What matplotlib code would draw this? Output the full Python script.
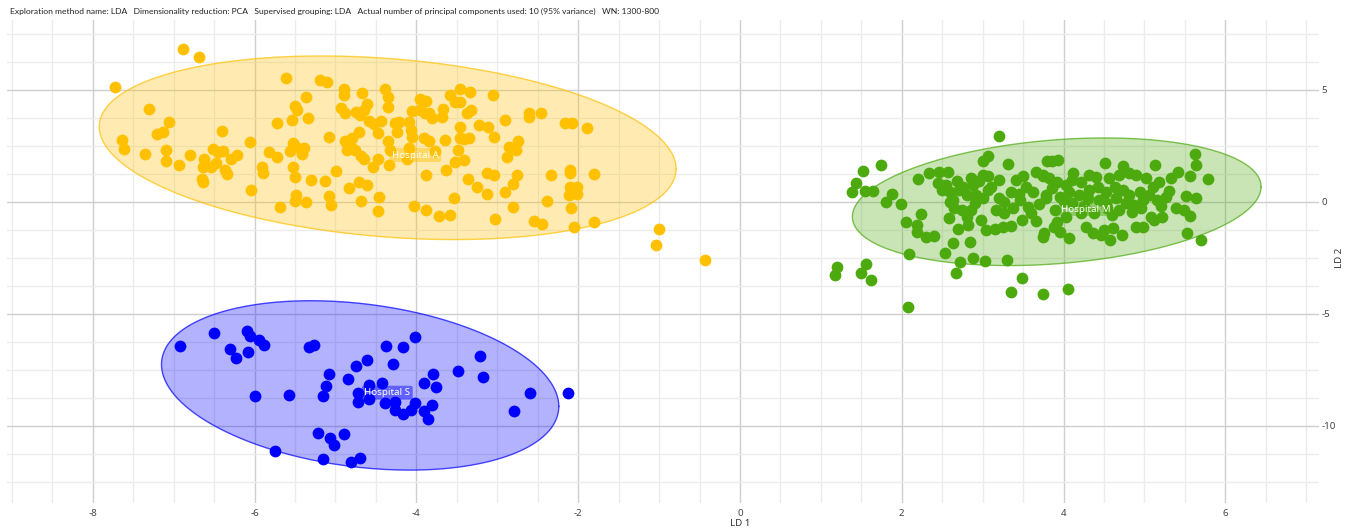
import numpy as np
import matplotlib
matplotlib.use('Agg')
import matplotlib.pyplot as plt

plt.rcParams['font.family'] = ['Noto Sans', 'DejaVu Sans']
plt.rcParams['axes.unicode_minus'] = False

title = ('Exploration method name: LDA   Dimensionality reduction: PCA   Supervised grouping: LDA   '
         'Actual number of principal components used: 10 (95% variance)   WN: 1300-800')

# LD1 / LD2 scores per hospital
hosp_a = np.array([
    (-6.88, 6.84), (-6.69, 6.48), (-7.73, 5.12), (-5.61, 5.55), (-5.19, 5.46), (-5.11, 5.36),
    (-4.90, 5.04), (-4.90, 4.79), (-5.37, 4.67), (-5.50, 4.30), (-5.47, 4.09), (-7.31, 4.16),
    (-7.06, 3.57), (-7.13, 3.12), (-7.21, 3.03), (-7.64, 2.76), (-7.61, 2.37), (-7.36, 2.12),
    (-7.09, 2.31), (-7.10, 1.84), (-6.93, 1.64), (-6.80, 2.09), (-6.63, 1.92), (-6.64, 1.58),
    (-6.54, 1.54), (-6.48, 1.72), (-6.51, 2.36), (-6.45, 2.22), (-6.39, 2.27), (-6.40, 3.15),
    (-6.37, 1.42), (-6.34, 1.24), (-6.29, 1.92), (-6.22, 2.10), (-6.65, 1.03), (-6.64, 0.91),
    (-6.06, 2.66), (-6.05, 0.52), (-5.91, 1.58), (-5.89, 1.30), (-5.82, 2.21), (-5.72, 2.01),
    (-5.72, 3.51), (-5.54, 3.66), (-5.34, 3.73), (-5.69, -0.22), (-5.52, 1.54), (-5.50, 1.10),
    (-5.53, 2.64), (-5.56, 2.27), (-5.49, 2.46), (-5.39, 2.40), (-5.41, 2.15), (-5.49, 0.31),
    (-5.50, 0.06), (-5.37, 0.00), (-5.30, 1.00), (-5.13, 0.92), (-5.08, 2.90), (-4.99, 1.37),
    (-5.08, 0.26), (-5.05, -0.13), (-4.93, 4.18), (-4.88, 3.96), (-4.88, 2.72), (-4.86, 2.33),
    (-4.83, 0.64),
    (-4.67, 4.88), (-4.39, 5.03), (-4.35, 4.70), (-4.35, 4.22), (-4.61, 4.36), (-4.65, 4.10),
    (-4.75, 4.03), (-4.70, 3.88), (-4.59, 3.61), (-4.52, 3.48), (-4.44, 3.63), (-4.47, 3.06),
    (-4.71, 3.13), (-4.79, 2.84), (-4.81, 2.46), (-4.76, 2.31), (-4.69, 2.04), (-4.65, 1.90),
    (-4.47, 1.94), (-4.53, 1.54), (-4.34, 1.64), (-4.71, 0.90), (-4.61, 0.75), (-4.68, 0.04),
    (-4.46, 0.22), (-4.47, -0.40), (-4.35, 2.73), (-4.32, 2.31), (-4.26, 3.54), (-4.21, 3.58),
    (-4.24, 3.13), (-4.09, 3.58), (-4.06, 4.07), (-3.95, 4.58), (-3.88, 4.52), (-3.96, 4.10),
    (-3.89, 3.99), (-3.85, 3.96), (-3.81, 3.76), (-4.07, 3.21), (-4.06, 2.88), (-4.09, 2.39),
    (-4.11, 1.94), (-3.91, 2.84), (-3.84, 2.73), (-3.77, 2.28), (-3.88, 1.19), (-3.65, 2.76),
    (-3.68, 3.81), (-3.67, 4.13), (-3.63, 1.45), (-4.03, -0.19), (-3.88, -0.34), (-3.72, -0.64),
    (-3.58, -0.60), (-3.54, 0.19), (-3.58, 4.78), (-3.46, 5.03), (-3.52, 4.48), (-3.46, 4.48),
    (-3.34, 4.91), (-3.38, 3.99), (-3.32, 4.10), (-3.46, 3.33), (-3.46, 2.84), (-3.41, 2.79),
    (-3.35, 2.84), (-3.49, 2.31), (-3.52, 1.79), (-3.41, 1.87), (-3.36, 1.04), (-3.25, 0.67),
    (-3.13, 0.34), (-3.22, 3.43), (-3.12, 3.36), (-3.04, 2.88), (-2.90, 3.66), (-3.05, 4.78),
    (-3.13, 1.31), (-3.04, 1.21), (-2.85, 2.46), (-2.74, 2.73), (-2.77, 2.31), (-2.88, 1.99),
    (-2.76, 1.22), (-2.81, 0.79), (-2.90, 0.45), (-2.81, -0.22), (-3.03, -0.75), (-2.61, 3.96),
    (-2.61, 3.78), (-2.46, 3.96), (-2.54, -0.87), (-2.45, -0.97), (-2.39, 0.03), (-2.34, 1.19),
    (-2.16, 3.54), (-2.08, 3.54), (-1.89, 3.30), (-2.10, 1.45), (-2.10, 1.30), (-2.10, 0.67),
    (-2.02, 0.67), (-2.11, 0.30), (-2.02, 0.34), (-2.09, -0.25), (-2.05, -1.13), (-1.81, 1.24),
    (-1.81, -0.90), (-1.00, -1.21), (-1.04, -1.93), (-0.43, -2.61),
])

hosp_s = np.array([
    (-6.92, -6.42), (-6.50, -5.87), (-6.09, -5.75), (-6.06, -6.00), (-5.95, -6.15), (-5.88, -6.39),
    (-6.30, -6.57), (-6.23, -6.97), (-6.08, -6.72), (-6.00, -8.66), (-5.57, -8.63), (-5.33, -6.49),
    (-5.27, -6.39), (-5.08, -7.66), (-5.12, -8.21), (-5.15, -8.66), (-4.84, -7.91), (-4.74, -7.31),
    (-4.61, -7.04), (-4.37, -6.42), (-4.16, -6.46), (-4.02, -6.04), (-4.29, -7.24), (-4.42, -8.09),
    (-4.59, -8.15), (-4.72, -8.51), (-4.72, -8.91), (-4.59, -8.81), (-4.39, -8.99), (-4.26, -8.93),
    (-4.27, -9.28), (-4.16, -9.48), (-4.07, -9.28), (-4.02, -8.99), (-3.91, -8.09), (-3.79, -7.69),
    (-3.76, -8.28), (-3.81, -9.06), (-3.90, -9.34), (-3.86, -9.70), (-3.48, -7.54), (-3.21, -6.87),
    (-3.18, -7.82), (-2.60, -8.54), (-2.79, -9.34), (-2.13, -8.54), (-5.22, -10.30), (-5.07, -10.52),
    (-5.02, -10.87), (-4.89, -10.37), (-5.75, -11.12), (-5.15, -11.46), (-4.81, -11.60), (-4.70, -11.45),
])

hosp_m = np.array([
    (3.20, 2.96), (1.74, 1.66), (1.52, 1.39), (1.43, 0.84), (1.39, 0.46), (1.54, 0.49),
    (1.64, 0.49), (1.88, 0.36), (1.81, 0.00), (1.99, -0.10), (2.20, 1.01), (2.34, 1.31),
    (2.46, 1.36), (2.57, 1.36), (2.50, 0.54), (2.24, -0.54), (2.05, -0.88), (2.19, -1.03),
    (2.19, -1.36), (2.30, -1.55), (2.40, -1.52), (2.09, -2.33), (1.20, -2.90), (1.18, -3.27),
    (1.56, -2.78), (1.50, -3.19), (1.62, -3.49), (2.08, -4.69), (2.67, -3.15), (2.54, -2.27),
    (2.63, -1.85), (2.72, -2.67), (2.88, -2.49), (3.03, -2.64), (3.30, -2.60), (2.84, -1.78),
    (2.70, -1.22), (2.82, -1.03), (2.58, -0.73), (2.98, -0.81), (3.04, -1.25), (3.15, -1.22),
    (3.25, -1.13), (3.35, -1.07), (3.48, -0.81), (3.66, -0.84), (3.49, -3.39), (3.35, -4.03),
    (3.75, -4.09), (3.00, 1.81), (3.06, 2.06), (3.31, 1.70), (3.00, 1.21), (3.06, 1.16),
    (3.20, 0.96), (3.41, 0.96), (3.50, 1.16), (3.66, 1.36), (3.74, 1.16), (2.71, 0.54),
    (2.80, 0.31), (2.90, -0.06), (3.00, 0.16), (3.10, 0.69), (3.06, 0.54), (3.20, 0.16),
    (3.26, 0.01), (3.16, -0.36), (3.26, -0.51), (3.37, -0.28), (3.46, 0.09), (3.56, -0.24),
    (3.62, 0.46), (3.53, 0.69), (3.78, 0.16), (3.80, 1.81), (2.59, 0.01), (2.65, -0.28),
    (2.75, -0.36), (2.86, -0.36), (2.80, -0.66), (2.59, 0.46), (2.63, 0.09), (2.76, 0.69),
    (2.88, 0.76), (2.92, 0.31), (3.75, -1.55),
    (2.45, 0.85), (2.55, 0.75), (2.68, 0.95), (2.85, 1.05), (2.95, 0.95), (3.35, 0.45),
    (3.45, 0.35), (3.60, -0.50), (3.70, -0.10), (3.90, -0.35), (4.00, 0.05), (4.25, -0.20),
    (4.60, -0.60), (4.85, -0.45), (5.30, 0.50), (5.20, -0.20),
    (5.62, 2.13), (5.64, 1.63), (5.79, 1.04), (5.56, 1.16), (5.42, 1.36), (5.13, 1.63),
    (4.74, 1.61), (4.51, 1.73), (4.12, 1.31), (3.86, 1.85), (3.93, 1.88), (5.51, 0.27),
    (5.64, 0.16), (5.39, -0.28), (5.49, -0.36), (5.56, -0.61), (5.53, -1.40), (5.70, -1.70),
    (5.27, 0.21), (5.33, 1.06), (5.18, 0.91), (5.10, 0.69), (5.02, 1.06), (4.89, 1.21),
    (4.81, 1.28), (4.69, 1.21), (4.56, 1.06), (4.40, 1.13), (4.32, 1.21), (4.21, 0.91),
    (4.11, 0.99), (4.03, 0.76), (3.92, 0.91), (3.82, 1.06), (3.74, 1.21), (3.78, 0.31),
    (3.86, 0.61), (3.95, 0.24), (4.07, 0.46), (4.19, 0.31), (4.30, 0.16), (4.32, 0.54),
    (4.42, 0.69), (4.52, 0.46), (4.63, 0.69), (4.73, 0.54), (4.81, 0.31), (4.94, 0.46),
    (4.98, 0.09), (5.06, 0.31), (5.16, 0.09), (4.65, 0.16), (4.52, -0.06), (4.44, 0.09),
    (4.77, -0.06), (4.87, -0.13), (4.96, -0.28), (5.08, -0.66), (5.12, -0.81), (5.22, -0.66),
    (4.69, -0.36), (4.54, -0.28), (4.38, -0.51), (4.21, -0.51), (4.11, -0.06), (4.03, -0.66),
    (3.92, -0.88), (3.88, -1.10), (3.76, -1.40), (3.96, -1.33), (4.07, -1.63), (4.28, -1.10),
    (4.36, -1.40), (4.46, -1.48), (4.57, -1.70), (4.50, -1.25), (4.61, -1.18), (4.72, -1.48),
    (4.89, -1.10), (4.98, -1.13), (4.05, -3.87),
])

# group ellipses: centre and covariance (LD1 var, LD2 var, covar)
centres = {'Hospital A': (-4.355, 2.42), 'Hospital S': (-4.695, -8.19), 'Hospital M': (3.915, 0.01)}
covs = {'Hospital A': (12.71, 16.8, -3.35), 'Hospital S': (6.03, 14.3, -2.3), 'Hospital M': (6.38, 8.12, 1.69)}

groups = [('Hospital A', hosp_a, '#FFC000'),
          ('Hospital S', hosp_s, '#0000FF'),
          ('Hospital M', hosp_m, '#4CAA0E')]

fig = plt.figure(figsize=(13.63, 5.31), dpi=100)
ax = fig.add_axes([7/1363, 28/531, 1312/1363, 483/531])
ax.set_xlim(-9.06, 7.157)
ax.set_ylim(-13.44, 8.125)

t = np.linspace(0, 2*np.pi, 300)
for name, pts, col in groups:
    cx, cy = centres[name]
    sxx, syy, sxy = covs[name]
    L = np.linalg.cholesky(np.array([[sxx, sxy], [sxy, syy]]))
    ex, ey = L @ np.vstack([np.cos(t), np.sin(t)])
    ax.fill(cx + ex, cy + ey, color=col, alpha=0.3, lw=0, zorder=1)
    ax.plot(cx + ex, cy + ey, color=col, alpha=0.7, lw=1, zorder=1)
    ax.scatter(pts[:, 0], pts[:, 1], s=72, color=col, lw=0, zorder=2)
    ax.annotate(name, (cx, cy), xytext=(3, -2), textcoords='offset points',
                ha='left', va='top', color='white', fontsize=7, zorder=3,
                bbox=dict(boxstyle='round,pad=0.25,rounding_size=0.2', fc=col, alpha=0.45, ec='none'))

# grid
ax.set_xticks(np.arange(-8, 7, 2))
ax.set_xticks(np.arange(-9, 7.01, 0.5), minor=True)
ax.set_yticks([-10, -5, 0, 5])
ax.set_yticks(np.arange(-12.5, 7.6, 1.25), minor=True)
ax.grid(which='minor', color='#ececec', lw=1, zorder=0)
ax.grid(which='major', color='#cfcfcf', lw=1, zorder=0)
ax.set_axisbelow(True)
for s in ax.spines.values():
    s.set_visible(False)
ax.yaxis.tick_right()
ax.tick_params(which='both', length=0, labelsize=7, labelcolor='#444444')
ax.tick_params(axis='x', pad=4)
ax.tick_params(axis='y', pad=2)

fig.text(10/1363, 1 - 11/531, title, fontsize=6.1, va='center', ha='left', color='#222222',
         family=['Lato', 'Noto Sans'])
fig.text(740/1363, 1 - 523/531, 'LD 1', fontsize=7, fontweight='bold', ha='center', va='center', color='#333333')
fig.text(1340/1363, 1 - 258/531, 'LD 2', fontsize=7, fontweight='bold', rotation=90,
         ha='center', va='center', color='#333333')

fig.savefig('out.png', dpi=100)
